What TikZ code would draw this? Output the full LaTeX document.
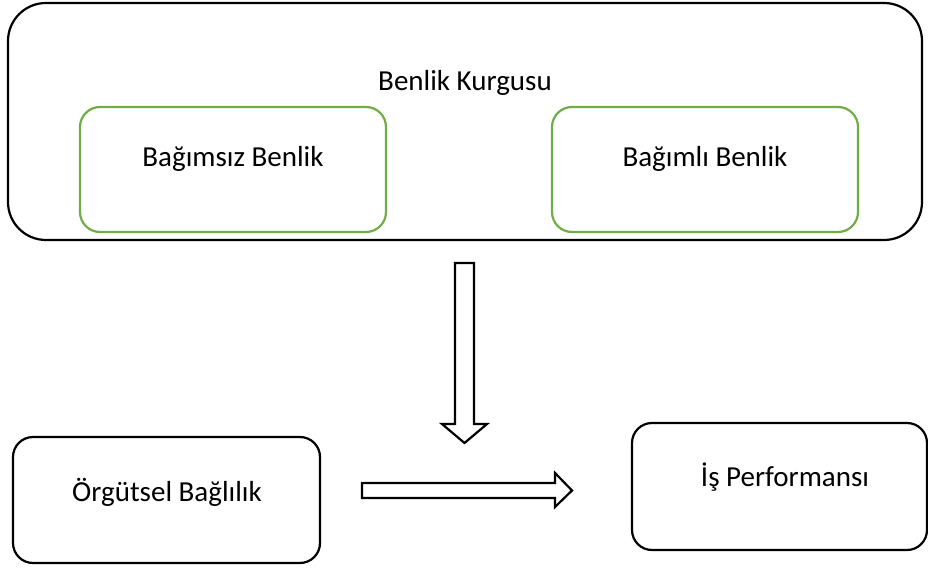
\documentclass[tikz,border=0pt]{standalone}
\usepackage{fontspec}
\setmainfont{Carlito}
\begin{document}
\begin{tikzpicture}[x=1pt,y=-1pt,
  blackbox/.style={draw=black,line width=2.2pt,rounded corners=20pt},
  lbl/.style={font=\fontsize{29}{34}\selectfont,inner sep=0pt},
  blockarrow/.style={draw=black,line width=2.2pt,fill=white,line join=miter}]
\definecolor{grn}{RGB}{112,173,71}
\useasboundingbox (0,0) rectangle (928,569);
\draw[blackbox,rounded corners=38pt] (8,3) rectangle (922,240);
\node[lbl] (title) at (465,83) {Benlik Kurgusu};
\draw[draw=grn,line width=2.2pt,rounded corners=20pt] (80,107) rectangle (386,232);
\node[lbl] (bag) at (233,159) {Bağımsız Benlik};
\draw[draw=grn,line width=2.2pt,rounded corners=20pt] (552,107) rectangle (858,232);
\node[lbl] (bagl) at (705,159) {Bağımlı Benlik};
\draw[blackbox] (13,437) rectangle (320,563);
\node[lbl] (org) at (167,492) {Örgütsel Bağlılık};
\draw[blackbox] (632,423) rectangle (927,550);
\node[lbl] (is) at (785,477) {İş Performansı};
\draw[blockarrow] (455,263) -- (474,263) -- (474,424) -- (487,424) -- (464.5,443) -- (442,424) -- (455,424) -- cycle;
\draw[blockarrow] (362,483) -- (555,483) -- (555,473) -- (572,490.5) -- (555,507) -- (555,498) -- (362,498) -- cycle;
\end{tikzpicture}
\end{document}
